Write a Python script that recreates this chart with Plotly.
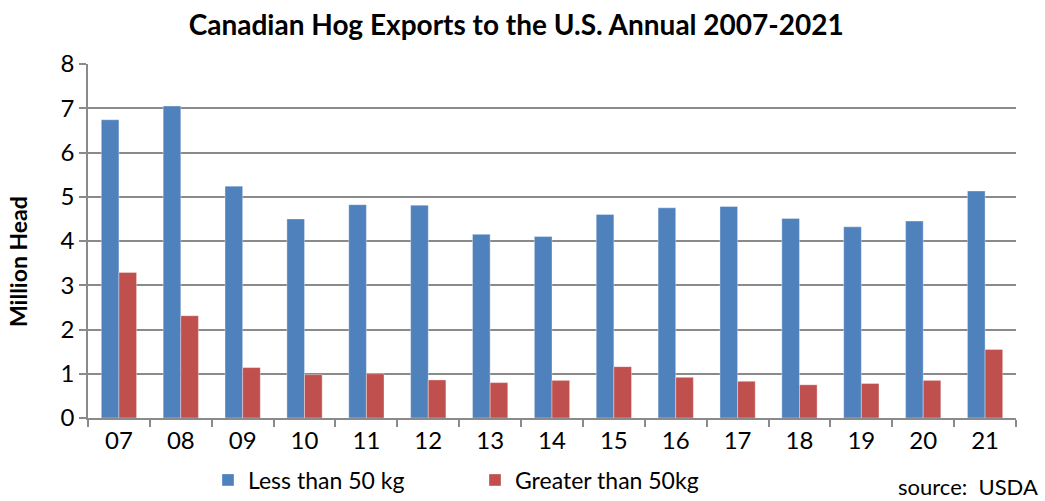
import plotly.graph_objects as go

years = ["07", "08", "09", "10", "11", "12", "13", "14", "15", "16", "17", "18", "19", "20", "21"]
less_than_50 = [6.74, 7.05, 5.24, 4.50, 4.82, 4.81, 4.15, 4.10, 4.60, 4.75, 4.78, 4.51, 4.32, 4.45, 5.13]
greater_than_50 = [3.29, 2.31, 1.14, 0.98, 1.00, 0.86, 0.80, 0.85, 1.16, 0.92, 0.83, 0.75, 0.78, 0.85, 1.55]

FONT = "Lato"
GRID = "#8a8a8a"

fig = go.Figure()
fig.add_trace(go.Bar(x=years, y=less_than_50, name="Less than 50 kg",
                     marker=dict(color="#4F81BD", line=dict(color="rgba(255,255,255,0.35)", width=1))))
fig.add_trace(go.Bar(x=years, y=greater_than_50, name="Greater than 50kg",
                     marker=dict(color="#C0504D", line=dict(color="rgba(255,255,255,0.35)", width=1))))

fig.update_layout(
    width=1045, height=501,
    margin=dict(l=88, r=29, t=64, b=83, autoexpand=False),
    paper_bgcolor="white", plot_bgcolor="white",
    barmode="group", bargap=0.43, bargroupgap=0,
    font=dict(family=FONT, color="black", size=23),
    title=dict(text="<b>Canadian Hog Exports to the U.S. Annual 2007-2021</b>",
               x=0.494, xanchor="center", y=1 - 25 / 501, yanchor="middle",
               font=dict(family=FONT, size=28, color="black")),
    showlegend=True,
    legend=dict(orientation="h", x=(208 - 88) / 928, xanchor="left", y=-0.175, yanchor="middle",
                font=dict(family=FONT, size=23, color="black"),
                entrywidth=222, entrywidthmode="pixels", bgcolor="rgba(0,0,0,0)"),
    xaxis=dict(type="category", showline=True, linecolor=GRID, linewidth=1.5,
               ticks="outside", tickson="boundaries", ticklen=7, tickcolor=GRID, tickwidth=1.5,
               showgrid=False, tickfont=dict(family=FONT, size=24, color="black")),
    yaxis=dict(range=[0, 8], dtick=1, showline=True, linecolor=GRID, linewidth=1.5,
               ticks="outside", ticklen=7, tickcolor=GRID, tickwidth=1.5,
               showgrid=True, gridcolor=GRID, gridwidth=1.5, zeroline=False,
               tickfont=dict(family=FONT, size=24, color="black")),
)

fig.add_annotation(text="<b>Million Head</b>", textangle=-90, xref="paper", yref="paper",
                   x=(18 - 88) / 928, y=(418 - 262) / 354, xanchor="center", yanchor="middle",
                   showarrow=False, font=dict(family=FONT, size=23, color="black"))
fig.add_annotation(text="source:  USDA", xref="paper", yref="paper",
                   x=(1040 - 88) / 928, y=(418 - 486) / 354, xanchor="right", yanchor="middle",
                   showarrow=False, font=dict(family=FONT, size=22, color="black"))

fig.write_html("out.html")
